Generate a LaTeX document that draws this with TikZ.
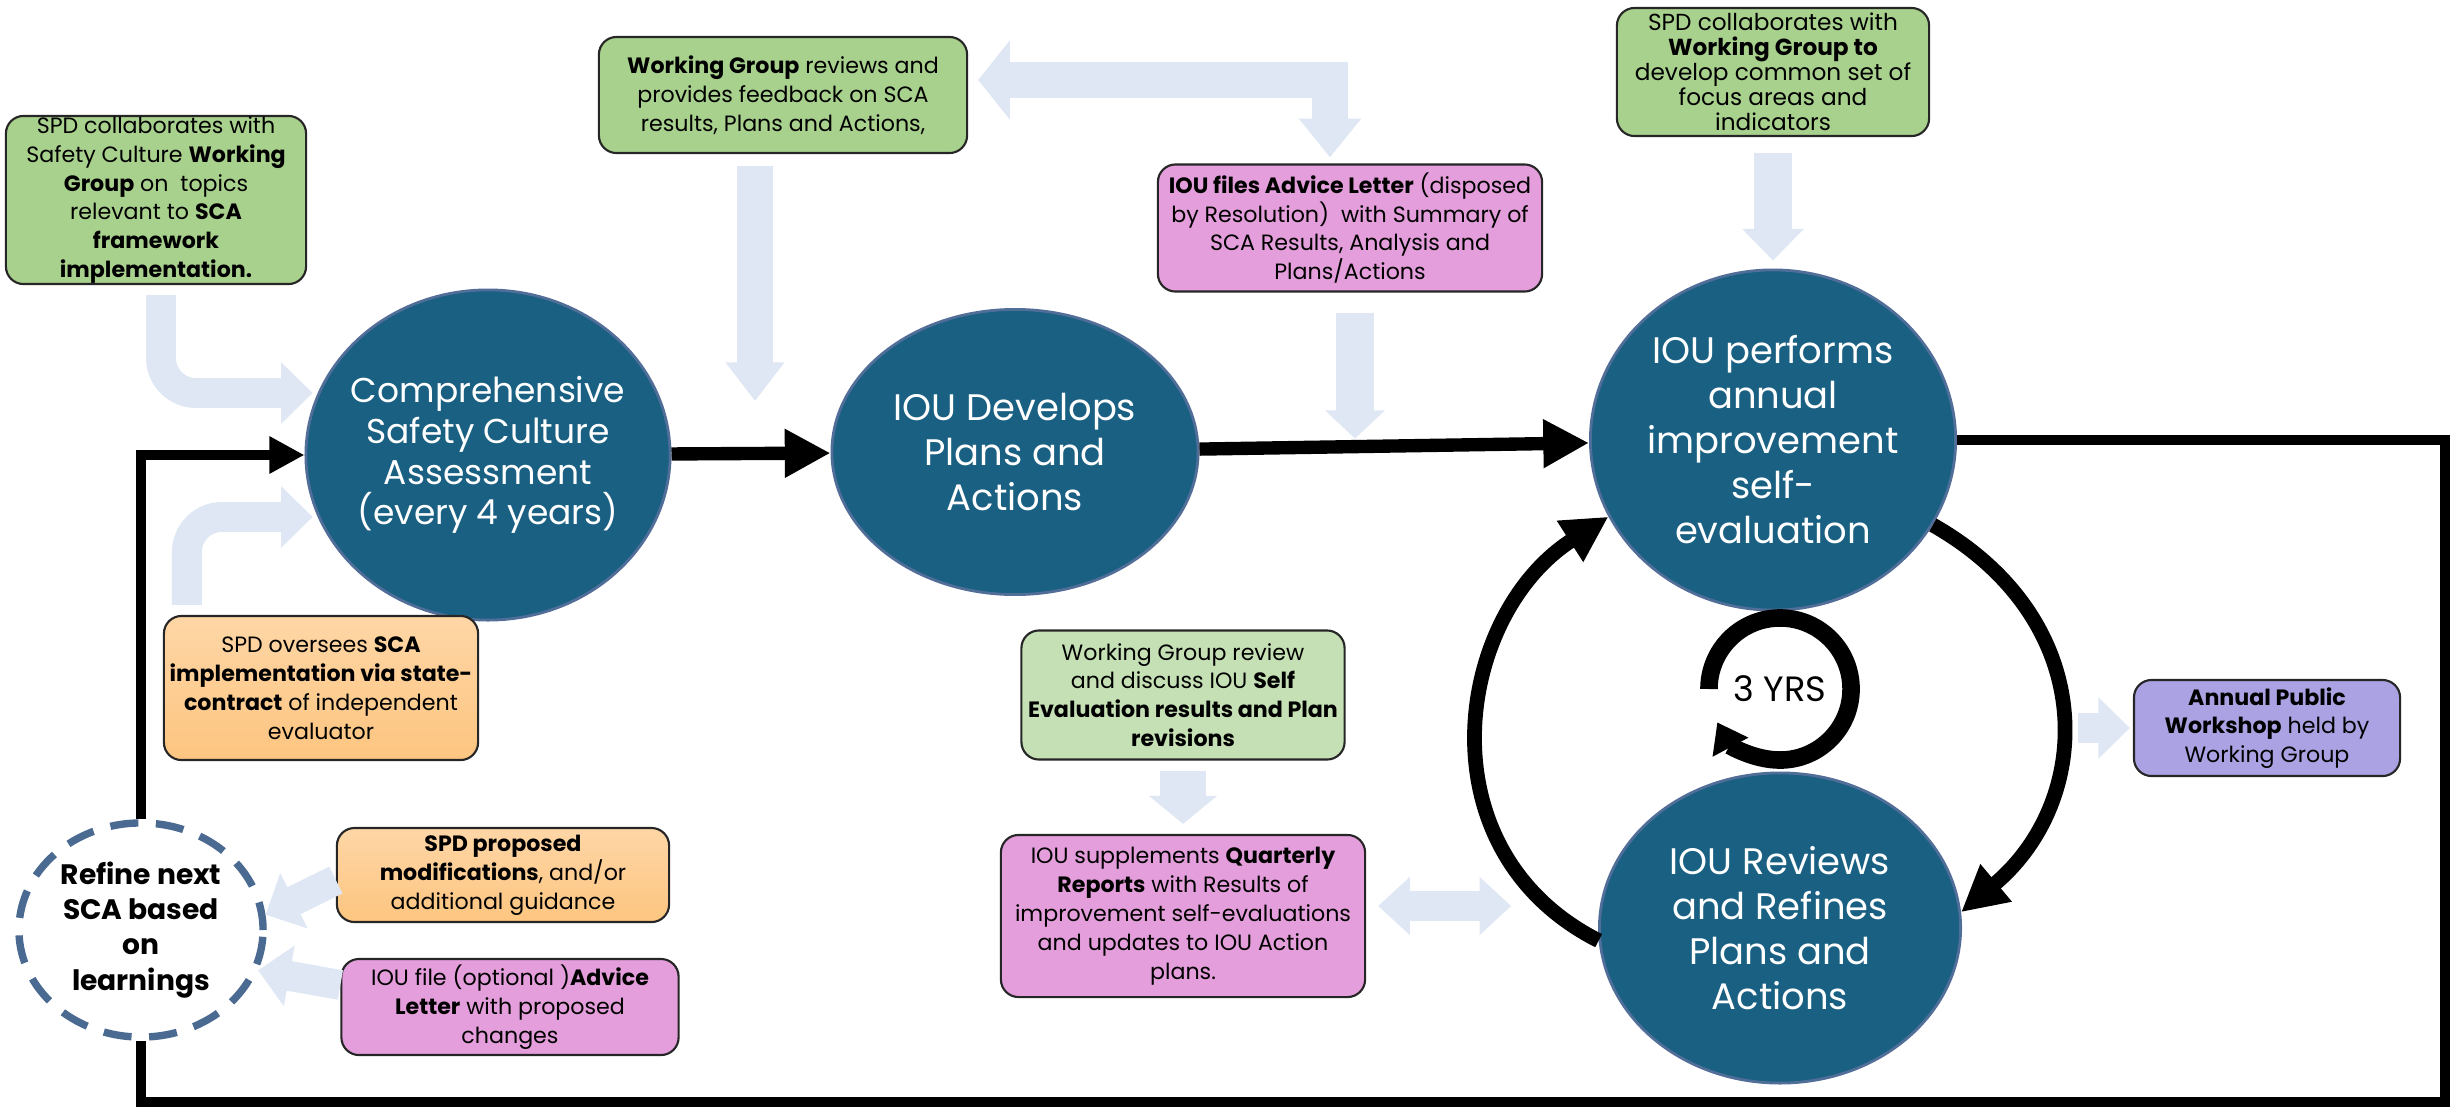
\documentclass[tikz,border=0pt]{standalone}
\usepackage{fontspec}
\setmainfont{Poppins}
\usetikzlibrary{arrows.meta,shapes.geometric}

\definecolor{phasefill}{RGB}{25,96,130}
\definecolor{phaseedge}{RGB}{80,110,152}
\definecolor{wggreen}{RGB}{169,209,142}
\definecolor{wglight}{RGB}{197,224,180}
\definecolor{ioupink}{RGB}{227,158,219}
\definecolor{spdtop}{RGB}{254,214,166}
\definecolor{spdbottom}{RGB}{253,197,128}
\definecolor{pubviolet}{RGB}{170,162,226}
\definecolor{paleblue}{RGB}{222,231,243}
\definecolor{dashblue}{RGB}{74,106,145}

\begin{document}
\begin{tikzpicture}[x=0.01cm,y=-0.01cm,
  phase node/.style={ellipse,fill=phasefill,draw=phaseedge,line width=0.8pt,text=white,
    align=center,inner sep=-8pt,font=\fontsize{10.5}{12.8}\selectfont},
  refine node/.style={ellipse,draw=dashblue,line width=2.1pt,dash pattern=on 8pt off 5pt,
    fill=white,align=center,inner sep=-6pt,font=\bfseries\fontsize{8}{10}\selectfont},
  note box/.style={rectangle,rounded corners=5pt,draw=black!85,line width=0.6pt,
    align=center,inner sep=0pt,font=\fontsize{6.3}{8.2}\selectfont},
  spd box/.style={note box,top color=spdtop,bottom color=spdbottom},
  flow/.style={line width=3.8pt,-{Triangle[length=13pt,width=13pt]}},
  loop line/.style={line width=2.9pt},
  round arrow/.style={line width=4.2pt,-{Triangle[length=13pt,width=13pt]}},
  ring arrow/.style={line width=5pt,-{Triangle[length=8pt,width=11pt]}},
  pale arrow/.style={draw=paleblue,line width=8.5pt,-{Triangle[length=9pt,width=17pt]}}]

  \useasboundingbox (0,0) rectangle (2458,1109);

  % the four phases
  \node[phase node,minimum width=3.64cm,minimum height=3.3cm,
    font=\fontsize{9.8}{11.6}\selectfont] (1) at (488,455)
    {Comprehensive\\Safety Culture\\Assessment\\(every 4 years)};
  \node[phase node,minimum width=3.66cm,minimum height=2.85cm] (2) at (1015,452)
    {IOU Develops\\Plans and\\Actions};
  \node[phase node,minimum width=3.65cm,minimum height=3.4cm] (3) at (1773,440)
    {IOU performs\\annual\\improvement\\self-\\evaluation};
  \node[phase node,minimum width=3.61cm,minimum height=3.1cm] (4) at (1780,928)
    {IOU Reviews\\and Refines\\Plans and\\Actions};
  \node[refine node,minimum width=2.44cm,minimum height=2.14cm] (5) at (141,930)
    {Refine next\\SCA based\\on\\learnings};

  % boxes round them
  \node[note box,fill=wggreen,minimum width=3.0cm,minimum height=1.68cm] (6) at (156,200)
    {SPD collaborates with\\Safety Culture \textbf{Working}\\\textbf{Group} on\ \ topics\\relevant to \textbf{SCA}\\\textbf{framework}\\\textbf{implementation.}};
  \node[note box,fill=wggreen,minimum width=3.68cm,minimum height=1.16cm] (7) at (783,95)
    {\textbf{Working Group} reviews and\\provides feedback on SCA\\results, Plans and Actions,};
  \node[note box,fill=ioupink,minimum width=3.84cm,minimum height=1.27cm] (8) at (1350,228)
    {\textbf{IOU files Advice Letter} (disposed\\by Resolution)\ \ with Summary of\\SCA Results, Analysis and\\Plans/Actions};
  \node[note box,fill=wggreen,minimum width=3.12cm,minimum height=1.28cm,
    font=\fontsize{6.6}{7.1}\selectfont] (9) at (1773,72)
    {SPD collaborates with\\\textbf{Working Group to}\\develop common set of\\focus areas and\\indicators};
  \node[spd box,minimum width=3.14cm,minimum height=1.44cm] (10) at (321,688)
    {SPD oversees \textbf{SCA}\\\textbf{implementation via state-}\\\textbf{contract} of independent\\evaluator};
  \node[note box,fill=wglight,minimum width=3.23cm,minimum height=1.29cm] (11) at (1183,695)
    {Working Group review\\and discuss IOU \textbf{Self}\\\textbf{Evaluation results and Plan}\\\textbf{revisions}};
  \node[note box,fill=ioupink,minimum width=3.64cm,minimum height=1.62cm] (12) at (1183,916)
    {IOU supplements \textbf{Quarterly}\\\textbf{Reports} with Results of\\improvement self-evaluations\\and updates to IOU Action\\plans.};
  \node[note box,fill=pubviolet,minimum width=2.66cm,minimum height=0.96cm] (13) at (2267,728)
    {\textbf{Annual Public}\\\textbf{Workshop} held by\\Working Group};
  \node[spd box,minimum width=3.32cm,minimum height=0.94cm] (14) at (503,875)
    {\textbf{SPD proposed}\\\textbf{modifications}, and/or\\additional guidance};
  \node[note box,fill=ioupink,minimum width=3.37cm,minimum height=0.96cm] (15) at (510,1007)
    {IOU file (optional )\textbf{Advice}\\\textbf{Letter} with proposed\\changes};

  \node[font=\fontsize{10}{12}\selectfont] (16) at (1780,689) {3 YRS};
  \coordinate (se) at (2445,1102);

  % pale hint arrows
  \draw[pale arrow,rounded corners=0.35cm] ([xshift=0.05cm,yshift=-0.1cm]6.south) |- ([xshift=-0.05cm]1.160);
  \draw[pale arrow,rounded corners=0.35cm] ([xshift=-1.34cm,yshift=0.1cm]10.north) |- ([xshift=-0.05cm]1.200);
  \draw[pale arrow,line width=10pt,-{Triangle[length=11pt,width=16pt]}]
    ([xshift=-0.28cm,yshift=-0.12cm]7.south) -- ++(0,235);
  \draw[pale arrow,line width=10pt,{Triangle[length=9pt,width=22pt]}-{Triangle[length=11pt,width=17pt]}]
    ([xshift=0.1cm,yshift=0.15cm]7.east) -| ([xshift=-0.2cm,yshift=0.06cm]8.north);
  \draw[pale arrow,line width=11pt,-{Triangle[length=8pt,width=16.5pt]}]
    ([xshift=0.05cm,yshift=-0.2cm]8.south) -- ++(0,126);
  \draw[pale arrow,line width=11pt,-{Triangle[length=9pt,width=17pt]}]
    ([yshift=-0.16cm]9.south) -- ([yshift=0.08cm]3.north);
  \draw[pale arrow,line width=13pt,-{Triangle[length=8pt,width=19pt]}]
    ([yshift=-0.1cm]11.south) -- ([yshift=0.1cm]12.north);
  \draw[pale arrow,{Triangle[length=9pt,width=16pt]}-{Triangle[length=9pt,width=16pt]}]
    ([xshift=0.12cm,yshift=0.1cm]12.east) -- ++(133,0);
  \draw[pale arrow] ([xshift=-0.55cm]13.west) -- ([xshift=-0.03cm]13.west);
  \draw[pale arrow] ([yshift=-0.05cm]14.west) -- (5.7);
  \draw[pale arrow] ([yshift=0.22cm]15.west) -- (5.-19);

  % main flow
  \path[flow] (1) edge (2)
              (2) edge (3);
  \draw[loop line] (3.east) -| (se) -| (5.south);
  \draw[loop line,-{Triangle[length=10pt,width=10pt]}] (5.north) |- (1.west);

  % yearly loop
  \draw[round arrow] (3.-28) .. controls (2100,620) and (2095,800) .. (4.5);
  \draw[round arrow] (4.184) .. controls (1420,850) and (1455,615) .. (3.205);
  \draw[ring arrow] ([shift={(180:0.71cm)}]16.center) arc[start angle=180,end angle=-152,radius=0.71cm];

\end{tikzpicture}
\end{document}
